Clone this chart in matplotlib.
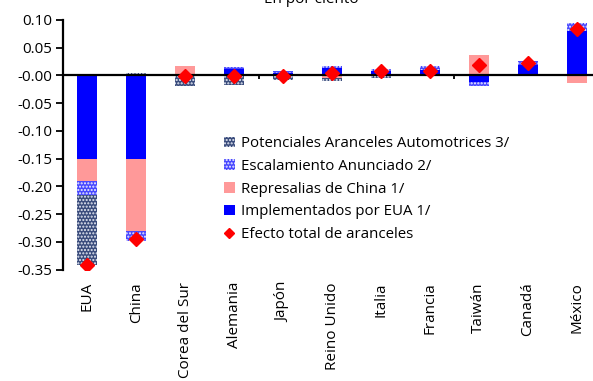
import matplotlib
matplotlib.use('Agg')
import matplotlib.pyplot as plt
import numpy as np
from matplotlib.patches import Patch
from matplotlib.lines import Line2D

plt.rcParams['font.family'] = ['Open Sans', 'DejaVu Sans']
plt.rcParams['hatch.linewidth'] = 1.0

# Efecto de aranceles por país, en por ciento
paises = ['EUA', 'China', 'Corea del Sur', 'Alemania', 'Japón', 'Reino Unido',
          'Italia', 'Francia', 'Taiwán', 'Canadá', 'México']
implementados = [-0.150, -0.150, 0.001, 0.012, 0.004, 0.013, 0.008, 0.010, -0.012, 0.019, 0.080]
represalias = [-0.040, -0.131, 0.015, 0.000, 0.000, -0.004, 0.000, 0.000, 0.037, 0.000, -0.013]
escalamiento = [-0.026, -0.018, -0.002, 0.003, 0.004, 0.003, 0.004, 0.006, -0.008, 0.007, 0.014]
potenciales = [-0.126, 0.004, -0.018, -0.017, -0.009, -0.007, -0.005, 0.000, 0.000, 0.000, 0.000]
efecto_total = [-0.342, -0.295, -0.002, -0.002, -0.001, 0.005, 0.008, 0.008, 0.019, 0.023, 0.084]

estilo_pot = dict(facecolor='#3a4c7c', edgecolor='#e8ecf5', hatch='.....', linewidth=0)
estilo_esc = dict(facecolor='#4848ff', edgecolor='#f0f0ff', hatch='.....', linewidth=0)

series = [
    ('Implementados por EUA 1/', implementados, dict(color='#0000ff')),
    ('Represalias de China 1/', represalias, dict(color='#ff9999')),
    ('Escalamiento Anunciado 2/', escalamiento, estilo_esc),
    ('Potenciales Aranceles Automotrices 3/', potenciales, estilo_pot),
]

fig = plt.figure(figsize=(5.93, 3.81), dpi=100)
ax = fig.add_axes([63 / 593, 1 - 269.6 / 381, 538 / 593, 249.8 / 381])

x = np.arange(len(paises))
width = 0.41
pos_base = np.zeros(len(paises))
neg_base = np.zeros(len(paises))
for name, vals, style in series:
    vals = np.array(vals)
    bottom = np.where(vals >= 0, pos_base, neg_base)
    ax.bar(x, vals, width, bottom=bottom, zorder=2, **style)
    pos_base += np.where(vals >= 0, vals, 0)
    neg_base += np.where(vals < 0, vals, 0)

ax.plot(x, efecto_total, linestyle='none', marker='D', markersize=7.5,
        color='#ff0000', zorder=4)

ax.axhline(0, color='black', linewidth=1.6, zorder=3)
# separadores cada cuatro categorías sobre el eje cero
ax.vlines([3.5, 7.5], -0.007, 0, color='black', linewidth=1.3, zorder=3)

ax.set_xlim(-0.5, len(paises) - 0.5)
ax.set_ylim(-0.35, 0.10)
yt = np.arange(-0.35, 0.101, 0.05)
ax.set_yticks(yt)
ax.set_yticklabels([f'{v:.2f}' for v in yt], fontsize=11)
ax.set_xticks(x)
ax.set_xticklabels(paises, rotation=90, fontsize=11)
ax.tick_params(axis='x', length=0, pad=9)
ax.tick_params(axis='y', length=5, width=1.3, direction='out', pad=3)

for s in ['top', 'right', 'bottom']:
    ax.spines[s].set_visible(False)
ax.spines['left'].set_linewidth(1.6)

leg_handles = [
    Patch(**estilo_pot),
    Patch(**estilo_esc),
    Patch(facecolor='#ff9999'),
    Patch(facecolor='#0000ff'),
    Line2D([], [], linestyle='none', marker='D', markersize=5, color='#ff0000'),
]
leg_labels = ['Potenciales Aranceles Automotrices 3/', 'Escalamiento Anunciado 2/',
              'Represalias de China 1/', 'Implementados por EUA 1/',
              'Efecto total de aranceles']
fig.legend(leg_handles, leg_labels, loc='upper left',
           bbox_to_anchor=(218 / 593, 1 - 130 / 381), frameon=False,
           fontsize=10.8, handlelength=0.7, handleheight=0.7,
           handletextpad=0.45, labelspacing=0.52, borderaxespad=0)

fig.text(0.525, 1 - 3 / 381, 'En por ciento', ha='center', va='baseline', fontsize=11)

fig.savefig('out.png', dpi=100)
